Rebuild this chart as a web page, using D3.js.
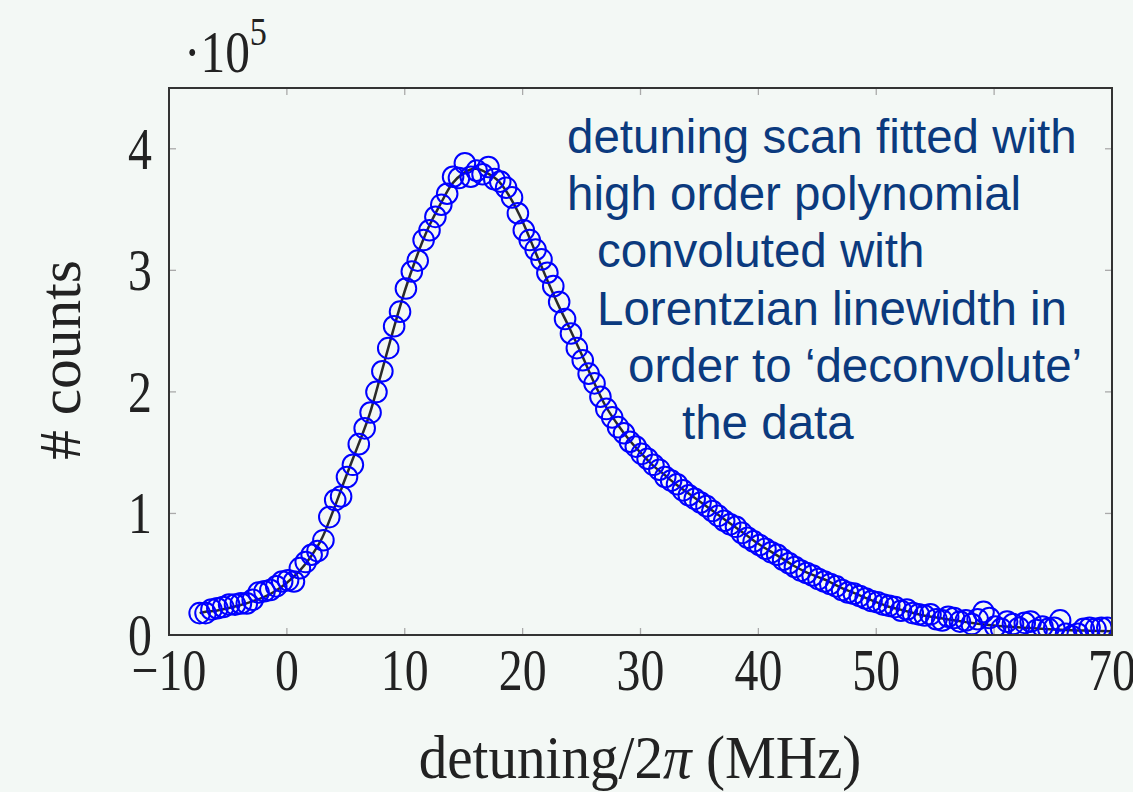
<!DOCTYPE html>
<html>
<head>
<meta charset="utf-8">
<script src="https://cdn.jsdelivr.net/npm/d3@7"></script>
<style>
  html, body { margin: 0; padding: 0; background: #f3f8f5; }
  svg { display: block; }
</style>
</head>
<body>
<svg id="chart" width="1133" height="792"></svg>
<script>
// ---- data (counts in units of 1e5) ----
const dataStart = -7.4, dataStep = 0.5;
const dataCounts = [
  0.18, 0.18, 0.21, 0.22, 0.23, 0.25, 0.25, 0.26, 0.26, 0.29,
  0.35, 0.36, 0.37, 0.40, 0.44, 0.45, 0.44, 0.55, 0.60, 0.66,
  0.69, 0.78, 0.97, 1.11, 1.14, 1.30, 1.40, 1.57, 1.70, 1.83,
  2.00, 2.17, 2.36, 2.54, 2.66, 2.85, 2.99, 3.08, 3.25, 3.33,
  3.44, 3.54, 3.63, 3.77, 3.76, 3.88, 3.77, 3.82, 3.79, 3.85,
  3.75, 3.73, 3.68, 3.60, 3.47, 3.33, 3.25, 3.17, 3.09, 2.98,
  2.87, 2.74, 2.60, 2.48, 2.36, 2.26, 2.15, 2.07, 1.96, 1.86,
  1.79, 1.71, 1.66, 1.59, 1.55, 1.49, 1.45, 1.40, 1.36, 1.30,
  1.27, 1.24, 1.19, 1.15, 1.12, 1.09, 1.06, 1.02, 0.98, 0.94,
  0.91, 0.89, 0.84, 0.80, 0.77, 0.74, 0.71, 0.68, 0.66, 0.62,
  0.59, 0.56, 0.53, 0.51, 0.49, 0.46, 0.44, 0.42, 0.40, 0.37,
  0.35, 0.34, 0.32, 0.30, 0.28, 0.27, 0.25, 0.24, 0.23, 0.20,
  0.21, 0.18, 0.17, 0.16, 0.17, 0.13, 0.12, 0.15, 0.14, 0.11,
  0.12, 0.09, 0.13, 0.19, 0.14, 0.07, 0.05, 0.11, 0.09, 0.06,
  0.10, 0.11, 0.04, 0.07, 0.05, 0.06, 0.12, 0.01, -0.01, 0.01,
  0.05, 0.06, 0.05, 0.06, 0.06
];
const fitX = [-7.4, -7, -6, -5, -4, -3, -2, -1, 0, 1, 2, 3, 4, 5, 6, 7, 8, 9, 10,
  11, 12, 13, 14, 15, 16, 17, 18, 19, 20, 21, 22, 23, 24, 25, 26, 27, 28, 29, 30,
  31, 32, 33, 34, 35, 36, 37, 38, 39, 40, 41, 42, 43, 44, 45, 46, 47, 48, 49, 50,
  51, 52, 53, 54, 55, 56, 57, 58, 59, 60, 61, 62, 63, 64, 65, 66, 67, 68, 69, 70];
const fitY = [0.18, 0.19, 0.20, 0.22, 0.245, 0.275, 0.31, 0.36, 0.43, 0.52, 0.64, 0.80, 1.04, 1.30, 1.55, 1.81, 2.15, 2.50, 2.83,
  3.11, 3.35, 3.54, 3.71, 3.80, 3.835, 3.80, 3.73, 3.59, 3.40, 3.17, 2.94, 2.72, 2.52, 2.31, 2.09, 1.89, 1.74, 1.61, 1.50,
  1.40, 1.32, 1.24, 1.17, 1.10, 1.03, 0.96, 0.89, 0.82, 0.75, 0.69, 0.63, 0.57, 0.52, 0.48, 0.44, 0.39, 0.35, 0.31, 0.27,
  0.235, 0.21, 0.185, 0.16, 0.145, 0.13, 0.115, 0.10, 0.088, 0.078, 0.07, 0.063, 0.057, 0.051, 0.046, 0.042, 0.038, 0.035, 0.032, 0.03];
const xTicks = [-10, 0, 10, 20, 30, 40, 50, 60, 70];
const yTicks = [0, 1, 2, 3, 4];
const annotationLines = [
  "detuning scan fitted with",
  "high order polynomial",
  "convoluted with",
  "Lorentzian linewidth in",
  "order to \u2018deconvolute\u2019",
  "the data"
];
const annotationIndent = [0, 0, 30, 30, 61, 115];

// ---- layout ----
const svg = d3.select("#chart");
const L = 169, R = 1112, T = 88, B = 635;
const x = d3.scaleLinear().domain([-10, 70]).range([L, R]);
const y = d3.scaleLinear().domain([0, 4.5]).range([B, T]);

svg.append("rect").attr("width", 1133).attr("height", 792).attr("fill", "#f3f8f5");

svg.append("defs").append("clipPath").attr("id", "clip")
  .append("rect").attr("x", L).attr("y", T).attr("width", R - L).attr("height", B - T);

const tickLen = 7;
const tickColor = "#aaaaaa";
const gx = svg.append("g");
gx.selectAll("line.b").data(xTicks).join("line")
  .attr("x1", d => x(d)).attr("x2", d => x(d)).attr("y1", B).attr("y2", B - tickLen)
  .attr("stroke", tickColor).attr("stroke-width", 1.3);
gx.selectAll("line.t").data(xTicks).join("line").attr("class", "t")
  .attr("x1", d => x(d)).attr("x2", d => x(d)).attr("y1", T).attr("y2", T + tickLen)
  .attr("stroke", tickColor).attr("stroke-width", 1.3);
const gy = svg.append("g");
gy.selectAll("line.l").data(yTicks).join("line")
  .attr("x1", L).attr("x2", L + tickLen).attr("y1", d => y(d)).attr("y2", d => y(d))
  .attr("stroke", tickColor).attr("stroke-width", 1.3);
gy.selectAll("line.r").data(yTicks).join("line").attr("class", "r")
  .attr("x1", R).attr("x2", R - tickLen).attr("y1", d => y(d)).attr("y2", d => y(d))
  .attr("stroke", tickColor).attr("stroke-width", 1.3);

// tick labels (narrow, tall like Computer Modern)
const serif = "'Liberation Serif', 'Times New Roman', serif";
svg.append("g").selectAll("text").data(xTicks).join("text")
  .attr("transform", d => `translate(${x(d)},690) scale(0.92,1.13)`)
  .attr("text-anchor", "middle")
  .attr("font-family", serif).attr("font-size", 52).attr("fill", "#222")
  .text(d => d < 0 ? "\u2212" + Math.abs(d) : d);
svg.append("g").selectAll("text").data(yTicks).join("text")
  .attr("transform", d => `translate(152,${y(d) + 20}) scale(0.92,1.13)`)
  .attr("text-anchor", "end")
  .attr("font-family", serif).attr("font-size", 52).attr("fill", "#222")
  .text(d => d);

// exponent
const ex = svg.append("text").attr("transform", "translate(184,72) scale(0.95,1.12)")
  .attr("font-family", serif).attr("font-size", 52).attr("fill", "#222");
ex.append("tspan").text("\u00B710");
ex.append("tspan").attr("dy", -24).attr("font-size", 36).text("5");

// axis labels
const xl = svg.append("text").attr("transform", "translate(640,778) scale(1.02,1.1)")
  .attr("text-anchor", "middle")
  .attr("font-family", serif).attr("font-size", 56).attr("fill", "#222");
xl.append("tspan").text("detuning/2");
xl.append("tspan").attr("font-style", "italic").text("\u03C0");
xl.append("tspan").text(" (MHz)");

svg.append("text").attr("transform", "translate(80,360) rotate(-90) scale(1.1,1.1)")
  .attr("text-anchor", "middle")
  .attr("font-family", serif).attr("font-size", 54).attr("fill", "#222")
  .text("# counts");

// plot content
const plot = svg.append("g").attr("clip-path", "url(#clip)");
const line = d3.line().x((d, i) => x(fitX[i])).y(d => y(d)).curve(d3.curveMonotoneX);
plot.append("path").datum(fitY).attr("d", line)
  .attr("fill", "none").attr("stroke", "#2a2a2a").attr("stroke-width", 2.5);

plot.selectAll("circle").data(dataCounts).join("circle")
  .attr("cx", (d, i) => x(dataStart + i * dataStep))
  .attr("cy", d => y(d))
  .attr("r", 10.3)
  .attr("fill", "none").attr("stroke", "#0000ff").attr("stroke-width", 2);

// frame
svg.append("rect").attr("x", L).attr("y", T).attr("width", R - L).attr("height", B - T)
  .attr("fill", "none").attr("stroke", "#333").attr("stroke-width", 2);

// annotation
svg.append("g").selectAll("text").data(annotationLines).join("text")
  .attr("x", (d, i) => 567 + annotationIndent[i])
  .attr("y", (d, i) => 153 + i * 57.2)
  .attr("font-family", "'Liberation Sans', Arial, sans-serif")
  .attr("font-size", 47.5).attr("fill", "#0b3a7e")
  .text(d => d);
</script>
</body>
</html>
